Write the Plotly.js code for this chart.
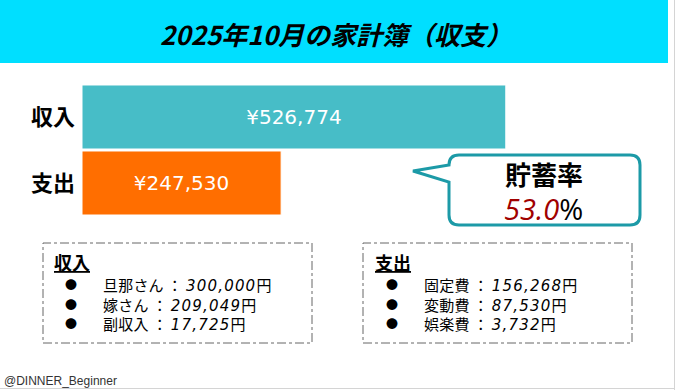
<!DOCTYPE html>
<html>
<head>
<meta charset="utf-8">
<script src="https://cdn.plot.ly/plotly-3.0.1.min.js"></script>
<style>html,body{margin:0;padding:0;background:#fff;}#chart{width:676px;height:390px;}</style>
</head>
<body>
<div id="chart"></div>
<script>
const titleText = '2025年10月の家計簿（収支）';
const categories = ['収入', '支出'];
const amounts = [526774, 247530];
const barColors = ['#47BDC7', '#FF6E00'];
const savingsLabel = '貯蓄率';
const savingsRate = 53.0;
const incomeItems = ['旦那さん', '嫁さん', '副収入'];
const incomeValues = [300000, 209049, 17725];
const expenseItems = ['固定費', '変動費', '娯楽費'];
const expenseValues = [156268, 87530, 3732];
const credit = '@DINNER_Beginner';

const W = 676, H = 390;
const px = x => x / W;
const py = y => (H - y) / H;
const P = (x, y) => px(x) + ',' + py(y);
const fmt = v => v.toLocaleString('en-US');
const JP = '"Noto Sans CJK JP", sans-serif';

const trace = {
  type: 'bar', orientation: 'h',
  y: categories, x: amounts,
  marker: {color: barColors, line: {color: '#ffffff', width: 1}},
  texttemplate: '¥%{x:,}', textposition: 'inside', insidetextanchor: 'middle',
  textfont: {color: '#ffffff', size: 20, family: '"DejaVu Sans", sans-serif'},
  hoverinfo: 'none', cliponaxis: false
};

// bubble path: rounded rect with tail
const bx0 = 449, bx1 = 640, by0 = 155, by1 = 225, r = 10;
const bubble = 'M' + P(bx0 + r, by0) + ' L' + P(bx1 - r, by0) +
  ' Q' + P(bx1, by0) + ' ' + P(bx1, by0 + r) +
  ' L' + P(bx1, by1 - r) + ' Q' + P(bx1, by1) + ' ' + P(bx1 - r, by1) +
  ' L' + P(bx0 + r, by1) + ' Q' + P(bx0, by1) + ' ' + P(bx0, by1 - r) +
  ' L' + P(bx0, 182) + ' L' + P(413, 171) + ' L' + P(bx0, 165) +
  ' L' + P(bx0, by0 + r) + ' Q' + P(bx0, by0) + ' ' + P(bx0 + r, by0) + ' Z';

const shapes = [
  {type: 'rect', xref: 'paper', yref: 'paper', x0: 0, x1: px(668), y0: py(63), y1: 1,
   fillcolor: '#00DFFF', line: {width: 0}, layer: 'below'},
  {type: 'line', xref: 'paper', yref: 'paper', x0: px(674.5), x1: px(674.5), y0: 0, y1: 1,
   line: {color: '#d4d4d4', width: 1}},
  {type: 'line', xref: 'paper', yref: 'paper', x0: 0, x1: px(675), y0: py(388.5), y1: py(388.5),
   line: {color: '#d4d4d4', width: 1}},
  {type: 'path', xref: 'paper', yref: 'paper', path: bubble,
   fillcolor: '#ffffff', line: {color: '#1C9AA7', width: 3}},
  {type: 'rect', xref: 'paper', yref: 'paper', x0: px(43), x1: px(312), y0: py(343), y1: py(243),
   line: {color: '#666666', width: 1, dash: 'dashdot'}},
  {type: 'rect', xref: 'paper', yref: 'paper', x0: px(363), x1: px(632), y0: py(343), y1: py(243),
   line: {color: '#666666', width: 1, dash: 'dashdot'}}
];

const ann = (x, y, text, opts) => Object.assign({
  xref: 'paper', yref: 'paper', x: px(x), y: py(y), text: text,
  showarrow: false, xanchor: 'left', yanchor: 'middle',
  font: {family: JP, size: 15, color: '#000000'}
}, opts || {});

const itemLine = (name, value) =>
  '<span style="font-size:15px;letter-spacing:0.2px">' + name + ' ：</span> ' +
  '<span style="font-family:\'DejaVu Sans\';font-size:15px;letter-spacing:1.2px"><i>' + fmt(value) + '</i></span>' +
  '<span style="font-size:15px">円</span>';
const bullets = incomeItems.map(() => '<span style="font-size:12px">●</span>').join('<br>');

const annotations = [
  ann(336, 33, '<b><i>' + titleText + '</i></b>', {xanchor: 'center', font: {family: JP, size: 26, color: '#000'}}),
  ann(544, 173, '<b>' + savingsLabel + '</b>', {xanchor: 'center', font: {family: JP, size: 26, color: '#000'}}),
  ann(543, 208, '<i><span style="color:#A00000">' + savingsRate.toFixed(1) + '</span></i>%', {xanchor: 'center', font: {family: '"Open Sans", sans-serif', size: 29, color: '#000'}}),
  ann(52, 262, '<b><u>収入</u></b>', {font: {family: JP, size: 18, color: '#000'}}),
  ann(373, 262, '<b><u>支出</u></b>', {font: {family: JP, size: 18, color: '#000'}}),
  ann(2, 381, credit, {font: {family: '"Liberation Sans", Arial, sans-serif', size: 12, color: '#333'}}),
  ann(71, 304, bullets, {xanchor: 'center'}),
  ann(392, 304, bullets, {xanchor: 'center'}),
  ann(101, 304, incomeItems.map((n, i) => itemLine(n, incomeValues[i])).join('<br>'), {align: 'left'}),
  ann(422, 304, expenseItems.map((n, i) => itemLine(n, expenseValues[i])).join('<br>'), {align: 'left'})
];

const layout = {
  width: W, height: H,
  margin: {l: 0, r: 0, t: 0, b: 0},
  paper_bgcolor: '#ffffff', plot_bgcolor: 'rgba(0,0,0,0)',
  showlegend: false, bargap: 0.03,
  xaxis: {domain: [px(82), 1], range: [0, 594 * 1243], visible: false, fixedrange: true},
  yaxis: {domain: [py(216), py(84)], type: 'category', range: [1.5, -0.5],
          showgrid: false, zeroline: false, showline: false, ticks: '',
          ticklabelstandoff: 6, automargin: false,
          tickfont: {family: JP, size: 22, color: '#000', weight: 700}},
  shapes: shapes, annotations: annotations
};

Plotly.newPlot('chart', [trace], layout, {displayModeBar: false, staticPlot: true});
</script>
</body>
</html>
